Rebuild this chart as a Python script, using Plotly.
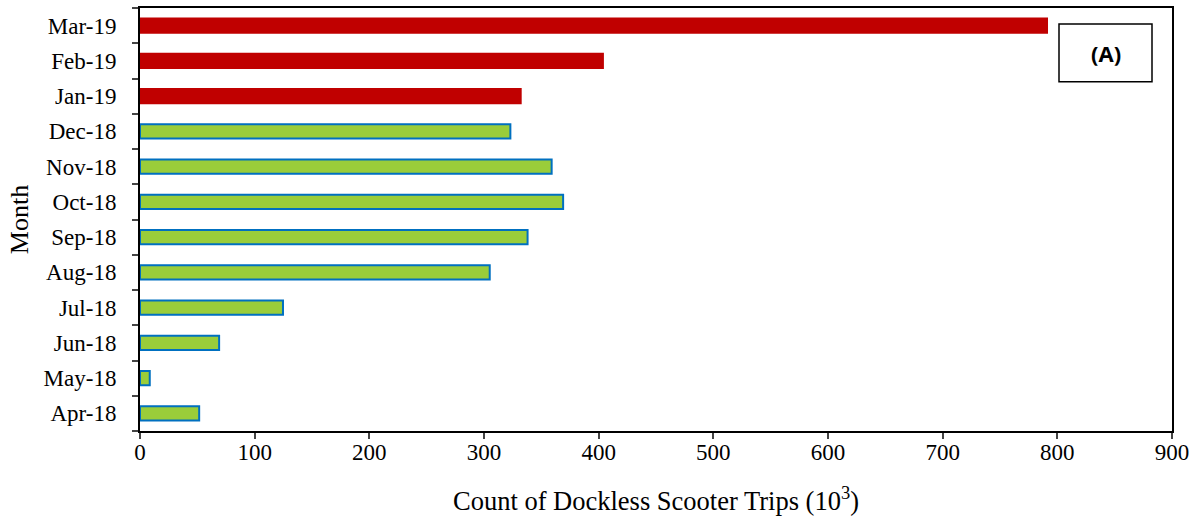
import plotly.graph_objects as go

months = ["Apr-18", "May-18", "Jun-18", "Jul-18", "Aug-18", "Sep-18",
          "Oct-18", "Nov-18", "Dec-18", "Jan-19", "Feb-19", "Mar-19"]
trips = [51.6, 8.5, 69, 124.7, 305, 338, 369, 359, 323, 332, 403.7, 791]
fill_colors = ["#9ACD3A"] * 9 + ["#C00000"] * 3
line_colors = ["#0070C0"] * 9 + ["#C00000"] * 3

fig = go.Figure(go.Bar(
    y=months, x=trips, orientation="h", width=0.4,
    marker=dict(color=fill_colors, line=dict(color=line_colors, width=2)),
))

serif = "Liberation Serif, Times New Roman, serif"
fig.update_layout(
    width=1198, height=520,
    margin=dict(l=140, r=26, t=6, b=89),
    plot_bgcolor="white", paper_bgcolor="white",
    showlegend=False,
    font=dict(family=serif, color="black", size=24),
    xaxis=dict(range=[0, 900], dtick=100, ticks="outside", ticklen=6,
               tickwidth=1.5, showline=True, linecolor="black", linewidth=2,
               mirror=True, showgrid=False, zeroline=False,
               tickfont=dict(size=23, family=serif), ticklabelstandoff=-7,
               title=dict(text="Count of Dockless Scooter Trips (10<sup>3</sup>)",
                          font=dict(size=26.5, family=serif), standoff=28)),
    yaxis=dict(type="category", categoryorder="array", categoryarray=months,
               ticks="outside", tickson="boundaries", ticklen=6, tickwidth=1.5,
               showline=True, linecolor="black", linewidth=2, mirror=True,
               showgrid=False, zeroline=False, ticklabelstandoff=17,
               tickfont=dict(size=23, family=serif),
               title=dict(text="Month", font=dict(size=26, family=serif), standoff=7)),
)

fig.add_shape(type="rect", xref="paper", yref="paper",
              x0=(1059 - 140) / 1032, x1=(1152 - 140) / 1032,
              y0=(431 - 80) / 425, y1=(431 - 22) / 425,
              line=dict(color="black", width=1.5), fillcolor="white")
fig.add_annotation(xref="paper", yref="paper",
                   x=(1105.5 - 140) / 1032, y=(431 - 51) / 425,
                   xanchor="center", yanchor="middle",
                   text="<b>(A)</b>", showarrow=False,
                   font=dict(family="Open Sans, Liberation Sans, sans-serif", size=22, color="black"))

fig.write_html("out.html", config={"displayModeBar": False},
               post_script="document.body.style.margin='0';")
